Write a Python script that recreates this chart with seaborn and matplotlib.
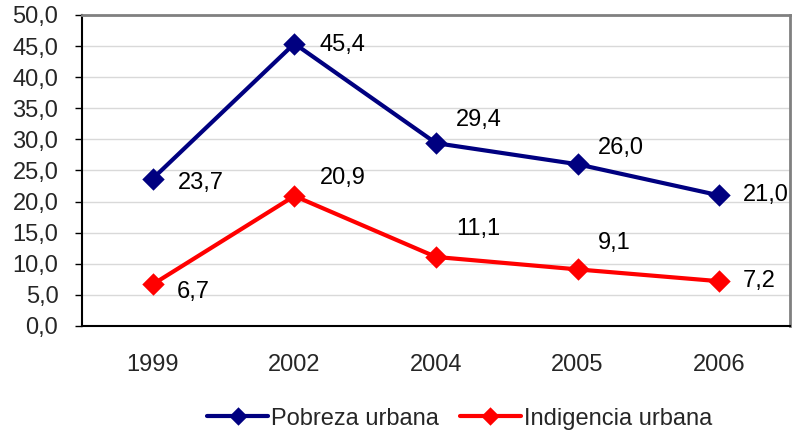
import numpy as np
import pandas as pd
import matplotlib
matplotlib.use("Agg")
import matplotlib.pyplot as plt
import seaborn as sns

# datos
years = ["1999", "2002", "2004", "2005", "2006"]
pobreza = [23.7, 45.4, 29.4, 26.0, 21.0]
indigencia = [6.7, 20.9, 11.1, 9.1, 7.2]
series_names = ["Pobreza urbana", "Indigencia urbana"]
colors = ["#000080", "#FF0000"]
y_ticks = [0, 5, 10, 15, 20, 25, 30, 35, 40, 45, 50]

# desplazamiento de las etiquetas (pixeles) respecto al punto
pob_offsets = [(25, -4), (25, -1), (20, 23), (20, 16), (24, 0)]
ind_offsets = [(24, -8), (25, 18), (20, 28), (20, 26), (24, 0)]

sns.set_theme(style="white")
plt.rcParams['font.family'] = ['Liberation Sans', 'DejaVu Sans']

df = pd.DataFrame({
    "year": years * 2,
    "value": pobreza + indigencia,
    "serie": [series_names[0]] * len(years) + [series_names[1]] * len(years),
})

fig = plt.figure(figsize=(7.92, 4.36), dpi=100)
ax = fig.add_axes([0.1035, 0.2523, 0.894, 0.7133])

sns.pointplot(data=df, x="year", y="value", hue="serie", palette=colors,
              markers="D", markersize=9, linewidth=3, errorbar=None, ax=ax)

handles, labels = ax.get_legend_handles_labels()
ax.get_legend().remove()

fs = 17
ax.set_xlim(-0.5, len(years) - 0.5)
ax.set_ylim(0, 50)
ax.set_yticks(y_ticks)
ax.set_yticklabels([f"{v:.1f}".replace(".", ",") for v in y_ticks], fontsize=fs)
ax.set_xticks(range(len(years)))
ax.set_xticklabels(years, fontsize=fs)
ax.set_xticks(np.arange(-0.5, len(years)), minor=True)
ax.tick_params(axis="x", which="major", length=0, pad=20)
ax.tick_params(axis="x", which="minor", length=5, width=1, color="black", direction="out")
ax.tick_params(axis="y", length=5, width=1, color="black", direction="out", pad=12, left=True)
ax.set_xlabel("")
ax.set_ylabel("")

ax.yaxis.grid(True, color="#d9d9d9", linewidth=1)
ax.set_axisbelow(True)
for side in ["left", "bottom"]:
    ax.spines[side].set_color("black")
    ax.spines[side].set_linewidth(1.5)
for side in ["top", "right"]:
    ax.spines[side].set_color("#808080")
    ax.spines[side].set_linewidth(2)

for vals, offs in [(pobreza, pob_offsets), (indigencia, ind_offsets)]:
    for i, (v, o) in enumerate(zip(vals, offs)):
        ax.annotate(f"{v:.1f}".replace(".", ","), (i, v), xytext=o,
                    textcoords="offset pixels", ha="left", va="center",
                    fontsize=fs, color="black", annotation_clip=False)

leg = fig.legend(handles, labels, loc="center", bbox_to_anchor=(0.58, 0.04), ncol=2,
                 frameon=False, fontsize=fs, handlelength=2.6, handletextpad=0.1,
                 columnspacing=0.9)
for h in leg.legend_handles:
    h.set_markersize(7)

fig.savefig("out.png", dpi=100)
